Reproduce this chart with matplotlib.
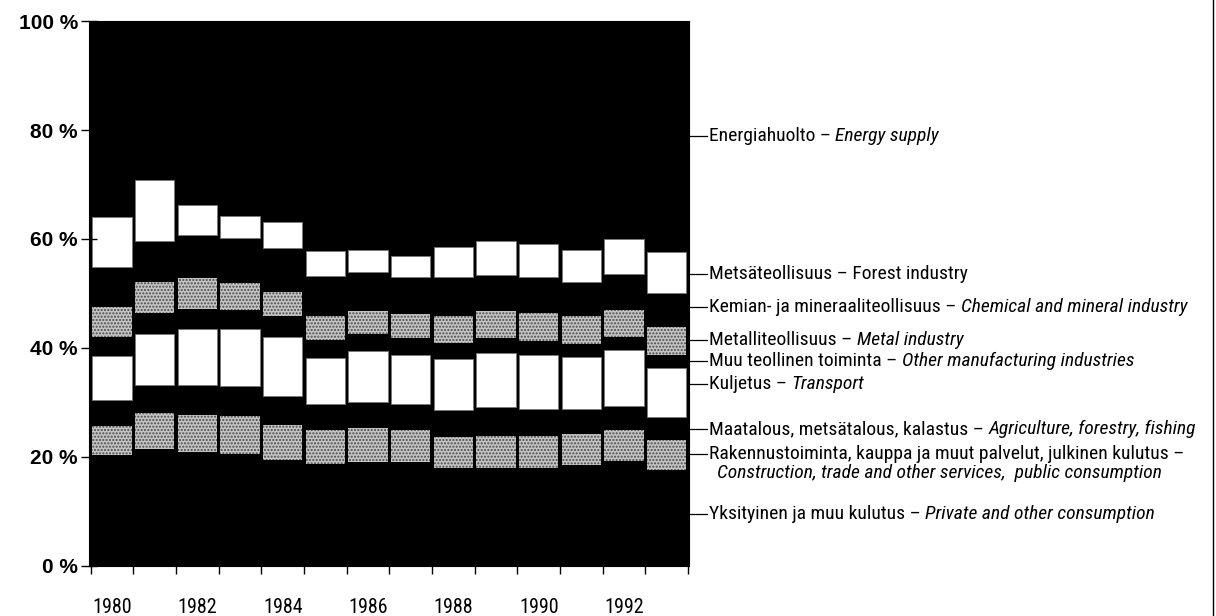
import numpy as np
import matplotlib.pyplot as plt
import matplotlib.transforms as mtransforms
from matplotlib.lines import Line2D

plt.rcParams['font.family'] = ['Roboto Condensed', 'Archivo Narrow', 'Liberation Sans Narrow', 'DejaVu Sans']

years = list(range(1980, 1994))

# osuudet (%) alhaalta ylos
yksityinen = [20.3, 21.5, 20.9, 20.5, 19.4, 18.8, 19.1, 19.0, 17.9, 17.9, 18.0, 18.5, 19.3, 17.7]
rakennus = [5.4, 6.5, 6.8, 7.1, 6.4, 6.2, 6.2, 6.0, 5.8, 6.0, 5.9, 5.8, 5.7, 5.4]
maatalous = [4.8, 5.2, 5.5, 5.4, 5.3, 4.7, 4.8, 4.7, 4.9, 5.2, 4.9, 4.5, 4.4, 4.3]
kuljetus = [8.0, 9.3, 10.2, 10.4, 11.0, 8.5, 9.4, 9.1, 9.4, 9.9, 10.0, 9.5, 10.2, 9.0]
muu_teoll = [3.6, 3.9, 3.7, 3.6, 3.7, 3.3, 3.1, 3.1, 2.9, 2.8, 2.4, 2.4, 2.5, 2.3]
metalli = [5.5, 5.8, 5.8, 4.9, 4.5, 4.3, 4.1, 4.3, 5.0, 5.0, 5.2, 5.1, 4.8, 5.1]
kemian = [7.3, 7.4, 7.9, 8.3, 8.0, 7.5, 7.2, 6.8, 7.1, 6.6, 6.6, 6.4, 6.6, 6.3]
metsa = [9.2, 11.2, 5.5, 4.0, 4.9, 4.5, 4.0, 3.8, 5.5, 6.2, 6.1, 5.8, 6.5, 7.6]
energia = [35.9, 29.2, 33.7, 35.8, 36.8, 42.2, 42.1, 43.2, 41.5, 40.4, 40.9, 42.0, 40.0, 42.3]

layers = [yksityinen, rakennus, maatalous, kuljetus, muu_teoll, metalli, kemian, metsa, energia]
kinds = ['black', 'gray', 'black', 'white', 'black', 'gray', 'black', 'white', 'black']

labels_fi = [
    'Yksityinen ja muu kulutus – ',
    'Rakennustoiminta, kauppa ja muut palvelut, julkinen kulutus –',
    'Maatalous, metsätalous, kalastus – ',
    'Kuljetus – ',
    'Muu teollinen toiminta – ',
    'Metalliteollisuus – ',
    'Kemian- ja mineraaliteollisuus – ',
    'Metsäteollisuus – Forest industry',
    'Energiahuolto – ',
]
labels_en = [
    'Private and other consumption',
    'Construction, trade and other services,  public consumption',
    'Agriculture, forestry, fishing',
    'Transport',
    'Other manufacturing industries',
    'Metal industry',
    'Chemical and mineral industry',
    '',
    'Energy supply',
]
label_y = [9.5, 20.6, 25.1, 33.4, 37.6, 41.5, 47.5, 53.5, 78.9]

fig = plt.figure(figsize=(12.16, 6.16), dpi=100)
ax = fig.add_axes([0.0732, 0.0812, 0.4934, 0.8847])
ax.set_facecolor('black')

x = np.arange(len(years))
bottom = np.zeros(len(years))
w = 0.92
for vals, kind in zip(layers, kinds):
    vals = np.array(vals)
    if kind == 'white':
        ax.bar(x, vals, w, bottom, color='white', edgecolor='#777777', lw=0.6)
    elif kind == 'gray':
        ax.bar(x, vals, w, bottom, color='#c4c4c4', lw=0)
        ax.bar(x, vals, w, bottom, fill=False, hatch='.....', edgecolor='#4a4a4a', lw=0)
    else:
        ax.bar(x, vals, w, bottom, color='black', lw=0)
    bottom += vals

ax.set_xlim(-0.54, 13.52)
ax.set_ylim(0, 100)

ax.set_yticks(range(0, 101, 20))
ax.set_yticklabels([f'{v} %' for v in range(0, 101, 20)],
                   family=['Liberation Sans', 'DejaVu Sans'], fontweight='bold', fontsize=15)
ax.tick_params(axis='y', direction='inout', length=12, width=1, pad=2)

ax.set_xticks(x[::2])
ax.set_xticklabels([str(y) for y in years[::2]], fontsize=14.5)
ax.set_xticks(np.arange(-0.5, 14), minor=True)
ax.tick_params(axis='x', which='major', length=0, pad=23)
ax.tick_params(axis='x', which='minor', length=6, width=1, direction='out')

for s in ax.spines.values():
    s.set_color('black')

# selitteet oikealla
fs = 14
trans = mtransforms.blended_transform_factory(ax.transAxes, ax.transData)
for fi, en, y in zip(labels_fi, labels_en, label_y):
    ax.plot([1.0, 1.03], [y, y], color='black', lw=0.9, transform=trans, clip_on=False)
    t1 = ax.text(1.033, y, fi, transform=trans, va='center', ha='left', fontsize=fs)
    if en and not fi.startswith('Rakennus'):
        ax.annotate(en, xy=(1, 0), xycoords=t1, va='bottom', ha='left',
                    fontsize=fs, style='italic')
    elif en:
        ax.annotate(en, xy=(0.0, 0), xycoords=t1, xytext=(8, -1), textcoords='offset pixels',
                    va='top', ha='left', fontsize=fs, style='italic')

fig.add_artist(Line2D([0.9975, 0.9975], [0, 1], color='black', lw=1))

fig.savefig('out.png', dpi=100, facecolor='white')
